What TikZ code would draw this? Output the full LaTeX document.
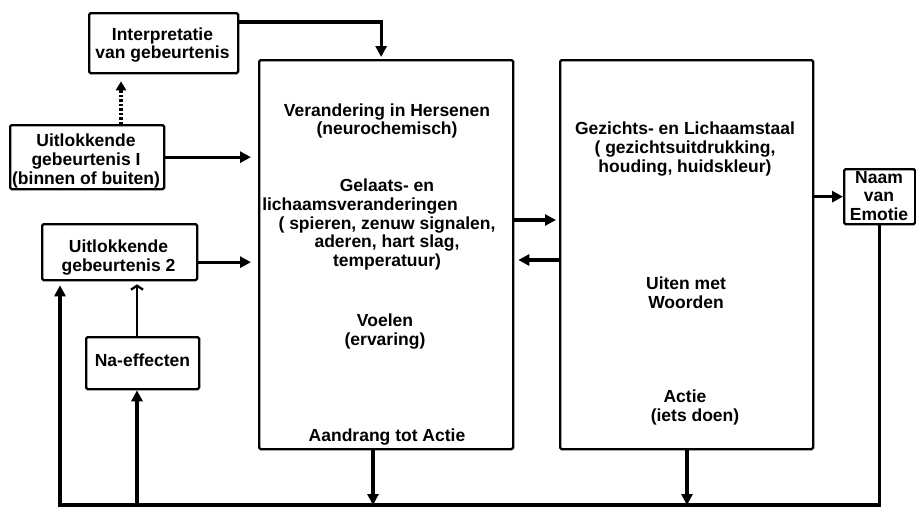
\documentclass[tikz,border=0pt]{standalone}
\usepackage{fontspec}
\setmainfont{Liberation Sans}
\usetikzlibrary{arrows.meta}
\begin{document}
\begin{tikzpicture}[x=1pt,y=-1pt,
  box/.style={draw, line width=2.3pt, rounded corners=1.5pt, inner sep=0pt, anchor=north west},
  txt/.style={font=\bfseries\fontsize{17.5}{18.8}\selectfont, align=center, inner sep=0pt},
  arr/.style={line width=3.2pt, line join=miter, -{Triangle[length=11pt,width=11pt]}},
  dotarr/.style={line width=3.2pt, dash pattern=on 2.5pt off 2pt, -{Triangle[length=9pt,width=10pt]}},
  thinarr/.style={line width=2.3pt, -{Straight Barb[length=4pt,width=12pt]}}]
\useasboundingbox (0,0) rectangle (916,509);
% boxes
\node[box, minimum width=149pt, minimum height=60pt] (interp) at (88,12) {};
\node[box, minimum width=154pt, minimum height=64pt] (box1) at (9,124) {};
\node[box, minimum width=155pt, minimum height=56pt] (box2) at (41,223) {};
\node[box, minimum width=113pt, minimum height=52pt] (naeff) at (85,336) {};
\node[box, minimum width=254pt, minimum height=389pt] (main1) at (258,59) {};
\node[box, minimum width=253pt, minimum height=389pt] (main2) at (559,59) {};
\node[box, minimum width=71pt, minimum height=55pt] (naam) at (843,168) {};
% texts
\node[txt] (tinterp) at (162.5,45) {Interpretatie\\van gebeurtenis};
\node[txt] (tbox1) at (86,161) {Uitlokkende\\gebeurtenis I\\(binnen of buiten)};
\node[txt] (tbox2) at (118.5,257.5) {Uitlokkende\\gebeurtenis 2};
\node[txt] (tnaeff) at (142.5,360) {Na-effecten};
\node[txt] (tnaam) at (879,196) {Naam\\van\\Emotie};
\node[txt] (m1a) at (387,121) {Verandering in Hersenen\\(neurochemisch)};
\node[txt] (m1b) at (387,224.5) {Gelaats- en\\lichaamsveranderingen\rule{54pt}{0pt}\\( spieren, zenuw signalen,\\aderen, hart slag,\\temperatuur)};
\node[txt] (m1c) at (385,331.5) {Voelen\\(ervaring)};
\node[txt] (m1d) at (387,437) {Aandrang tot Actie};
\node[txt] (m2a) at (685,149) {Gezichts- en Lichaamstaal\\( gezichtsuitdrukking,\\houding, huidskleur)};
\node[txt] (m2b) at (686,292.5) {Uiten met\\Woorden};
\node[txt] (m2c) at (695,407.5) {Actie\rule{20pt}{0pt}\\(iets doen)};
% helper coordinates
\coordinate (dx) at (121,0);
\coordinate (r1) at (0,220);
\coordinate (r2) at (0,260);
\coordinate (bl) at (60,505);
\coordinate (x1) at (373,0);
\coordinate (x2) at (687,0);
\coordinate (nx) at (137,0);
% connectors
\draw[arr, shorten >=2pt] ([yshift=-10pt]interp.north east) -| ([xshift=-5pt]main1.north);
\draw[dotarr, shorten >=7pt] (box1.north -| dx) -- (interp.south -| dx);
\draw[arr, shorten >=7pt] (box1.east) -- (box1.east -| main1.west);
\draw[arr, shorten >=7pt] ([yshift=-10pt]box2.east) -- ([yshift=-10pt]box2.east -| main1.west);
\draw[arr, shorten >=3pt] (main1.east |- r1) -- (main2.west |- r1);
\draw[arr, shorten >=4pt] (main2.west |- r2) -- (main1.east |- r2);
\draw[arr] (main2.east |- naam.west) -- (naam.west);
\draw[arr, shorten >=4pt] (naam.south) |- (bl) -- (bl |- box2.south);
\draw[arr] (main1.south -| x1) -- (bl -| x1);
\draw[arr] (main2.south -| x2) -- (bl -| x2);
\draw[arr] (bl -| nx) -- (naeff.south -| nx);
\draw[thinarr, shorten >=3pt] (naeff.north -| nx) -- (box2.south -| nx);
\end{tikzpicture}
\end{document}
